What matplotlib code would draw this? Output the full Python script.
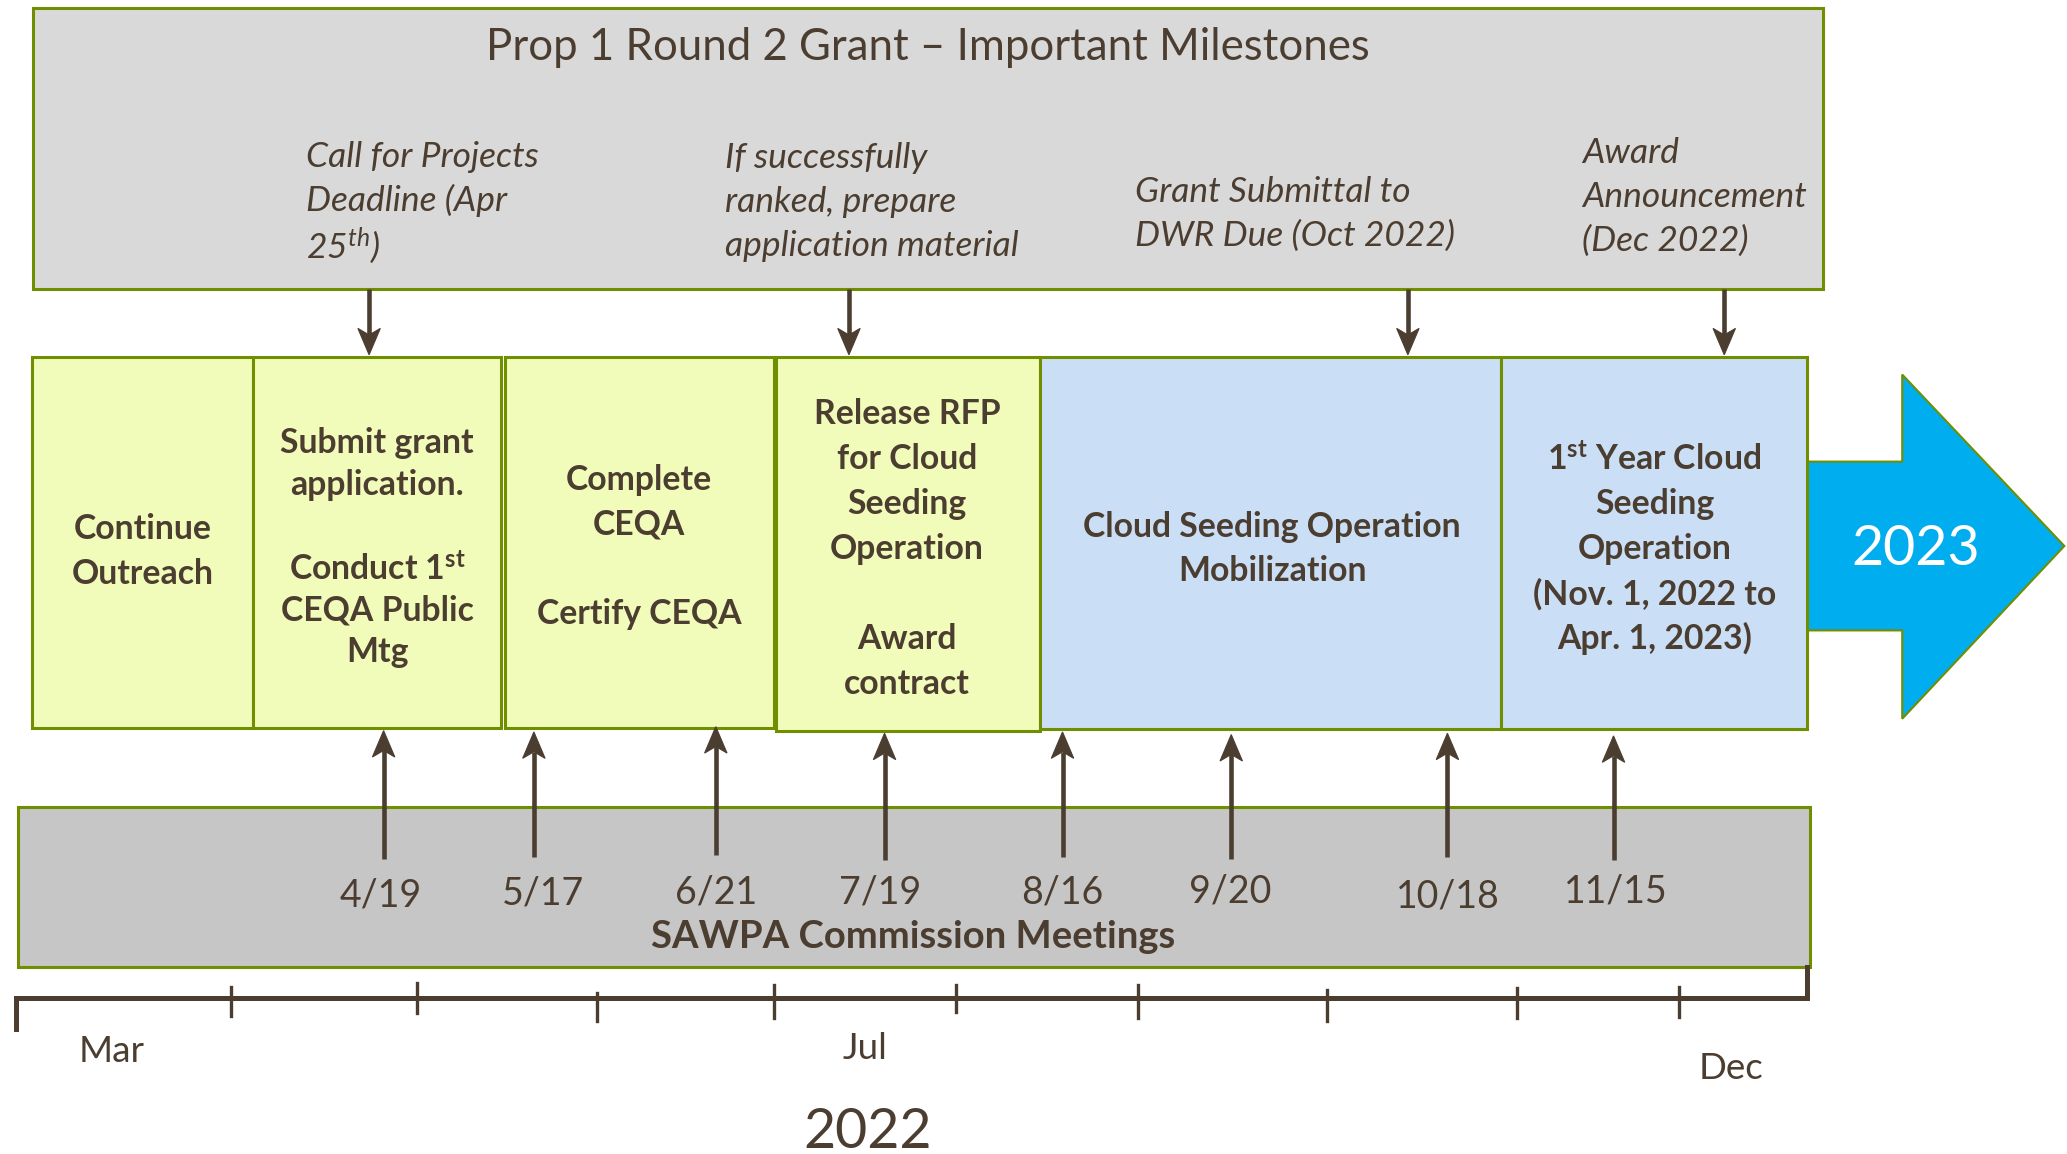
import matplotlib
matplotlib.use('Agg')
import matplotlib.pyplot as plt
from matplotlib.patches import Rectangle, Polygon

plt.rcParams['font.family'] = ['Lato', 'DejaVu Sans']
plt.rcParams['mathtext.fontset'] = 'custom'
plt.rcParams['mathtext.rm'] = 'Lato'
plt.rcParams['mathtext.it'] = 'Lato:italic'
plt.rcParams['mathtext.bf'] = 'Lato:bold'

# ---------------- data ----------------
title = 'Prop 1 Round 2 Grant \u2013 Important Milestones'
milestone_notes = [
    ['Call for Projects', 'Deadline (Apr', r'25$^{\mathdefault{th}}$)'],
    ['If successfully', 'ranked, prepare', 'application material'],
    ['Grant Submittal to', 'DWR Due (Oct 2022)'],
    ['Award', 'Announcement', '(Dec 2022)'],
]
phase_texts = [
    ['Continue', 'Outreach'],
    ['Submit grant', 'application.', '', r'Conduct 1$^{\mathdefault{st}}$', 'CEQA Public', 'Mtg'],
    ['Complete', 'CEQA', '', 'Certify CEQA'],
    ['Release RFP', 'for Cloud', 'Seeding', 'Operation', '', 'Award', 'contract'],
    ['Cloud Seeding Operation', 'Mobilization'],
    [r'1$^{\mathdefault{st}}$ Year Cloud', 'Seeding', 'Operation', '(Nov. 1, 2022 to', 'Apr. 1, 2023)'],
]
phase_kind = ['prep', 'prep', 'prep', 'prep', 'ops', 'ops']
meeting_dates = ['4/19', '5/17', '6/21', '7/19', '8/16', '9/20', '10/18', '11/15']
band_label = 'SAWPA Commission Meetings'
month_labels = ['Mar', 'Jul', 'Dec']
year_label = '2022'
next_year_label = '2023'

# ---------------- layout (canvas units) ----------------
W, H = 1568, 875
top_box = (25, 6, 1383, 219)
title_pos = (704, 36)
note_x = [232, 550, 861, 1200]
note_cy = [150, 151, 160, 147]
note_pitch = 33.5
down_x = [280, 644, 1068, 1308]
down_y = (219, 269)

phase_x = [(24, 192), (192, 380), (383, 587), (589, 789), (789, 1139), (1139, 1371)]
phase_y = [(271, 552), (271, 552), (271, 552), (271, 554), (271, 553), (271, 553)]
phase_cx = [108, 286, 485, 688, 965, 1255]
phase_cy = [416, 413, 412.5, 414, 414, 414]
phase_pitch = [34, 31.6, 34, 34, 34, 34]

big_arrow = dict(x0=1371, xh=1443, xt=1566, sy0=350, sy1=478, hy0=284, hy1=545, yc=414)
next_year_pos = (1453, 413)

band = (14, 612, 1373, 733)
up_x = [291, 405, 543, 671, 806, 934, 1098, 1224]
up_tail = [651, 650, 648, 652, 650, 651, 650, 652]
up_tip = [554, 555, 551, 556, 555, 557, 556, 558]
date_x = [289, 412, 543, 668, 806, 933, 1098, 1226]
date_y = [676, 675, 674, 674, 674, 673, 677, 673]
band_label_pos = (693, 708)

axis_y = 757
axis_x = (12, 1371)
axis_left_leg = 780
axis_right_leg = 733
tick_x = [175, 316, 453, 587, 725, 863, 1007, 1151, 1274]
tick_y = [(748, 770), (745, 768), (753, 774), (747, 772), (747, 767),
          (747, 772), (751, 774), (749, 772), (748, 771)]
month_pos = [(85, 795), (656, 793), (1313, 808)]
year_pos = (658, 855)

# ---------------- styles ----------------
TXT = '#4B3D30'
EDGE = '#6F8F00'
GRAY_TOP = '#D9D9D9'
GRAY_BAND = '#C6C6C6'
YELLOW = '#F1FBBA'
BLUE = '#CADFF6'
CYAN = '#00AEEF'

fig = plt.figure(figsize=(20.67, 11.54), dpi=100)
ax = fig.add_axes([0, 0, 1, 1])
ax.set_xlim(0, W)
ax.set_ylim(H, 0)
ax.axis('off')


def rect(x0, y0, x1, y1, fc, lw=2.2, z=1):
    ax.add_patch(Rectangle((x0, y0), x1 - x0, y1 - y0, facecolor=fc,
                           edgecolor=EDGE, linewidth=lw, zorder=z))


def lines_block(x, cy, lines, pitch, ha='center', **kw):
    n = len(lines)
    for i, s in enumerate(lines):
        if not s:
            continue
        y = cy + (i - (n - 1) / 2) * pitch
        ax.text(x, y, s, ha=ha, va='center_baseline', color=TXT, zorder=6, **kw)


def arrow(x, y_tail, y_tip, lw=3.3, hl=20, hw=8.5, notch=5):
    d = 1 if y_tip > y_tail else -1
    base = y_tip - d * hl
    ax.plot([x, x], [y_tail, base + d * notch], color=TXT, lw=lw,
            solid_capstyle='butt', zorder=5)
    ax.add_patch(Polygon([(x, y_tip), (x - hw, base), (x, base + d * notch),
                          (x + hw, base)], closed=True, fc=TXT, ec=TXT,
                         lw=0.8, zorder=5))


# top milestone box
rect(*top_box, GRAY_TOP)
ax.text(*title_pos, title, ha='center', va='center', fontsize=31.5, color=TXT)
for x, cy, note in zip(note_x, note_cy, milestone_notes):
    lines_block(x, cy, note, note_pitch, ha='left', fontsize=25.5,
                style='italic')
for x in down_x:
    arrow(x, down_y[0], down_y[1])

# phase boxes
for (x0, x1), (y0, y1), kind in zip(phase_x, phase_y, phase_kind):
    rect(x0, y0, x1, y1, YELLOW if kind == 'prep' else BLUE, z=2)
for cx, cy, txt, p in zip(phase_cx, phase_cy, phase_texts, phase_pitch):
    lines_block(cx, cy, txt, p, fontsize=24.3, fontweight='bold')

# big 2023 arrow
b = big_arrow
ax.add_patch(Polygon([(b['x0'], b['sy0']), (b['xh'], b['sy0']), (b['xh'], b['hy0']),
                      (b['xt'], b['yc']), (b['xh'], b['hy1']), (b['xh'], b['sy1']),
                      (b['x0'], b['sy1'])], closed=True, fc=CYAN, ec=EDGE,
                     lw=1.5, zorder=1.5))
ax.text(*next_year_pos, next_year_label, ha='center', va='center_baseline',
        fontsize=40, color='white', zorder=6)

# SAWPA band
rect(*band, GRAY_BAND)
for x, yt, yh in zip(up_x, up_tail, up_tip):
    arrow(x, yt, yh)
for x, y, s in zip(date_x, date_y, meeting_dates):
    ax.text(x, y, s, ha='center', va='center_baseline', fontsize=27, color=TXT)
ax.text(*band_label_pos, band_label, ha='center', va='center_baseline',
        fontsize=27.5, fontweight='bold', color=TXT)

# timeline axis
ax.plot([axis_x[0], axis_x[0], axis_x[1], axis_x[1]],
        [axis_left_leg, axis_y, axis_y, axis_right_leg],
        color=TXT, lw=3.6, solid_joinstyle='miter', zorder=4)
for x, (y0, y1) in zip(tick_x, tick_y):
    ax.plot([x, x], [y0, y1], color=TXT, lw=2.4, zorder=4)
for (x, y), s in zip(month_pos, month_labels):
    ax.text(x, y, s, ha='center', va='center_baseline', fontsize=26.5, color=TXT)
ax.text(*year_pos, year_label, ha='center', va='center_baseline',
        fontsize=40, color=TXT)

fig.savefig('out.png', dpi=100)
